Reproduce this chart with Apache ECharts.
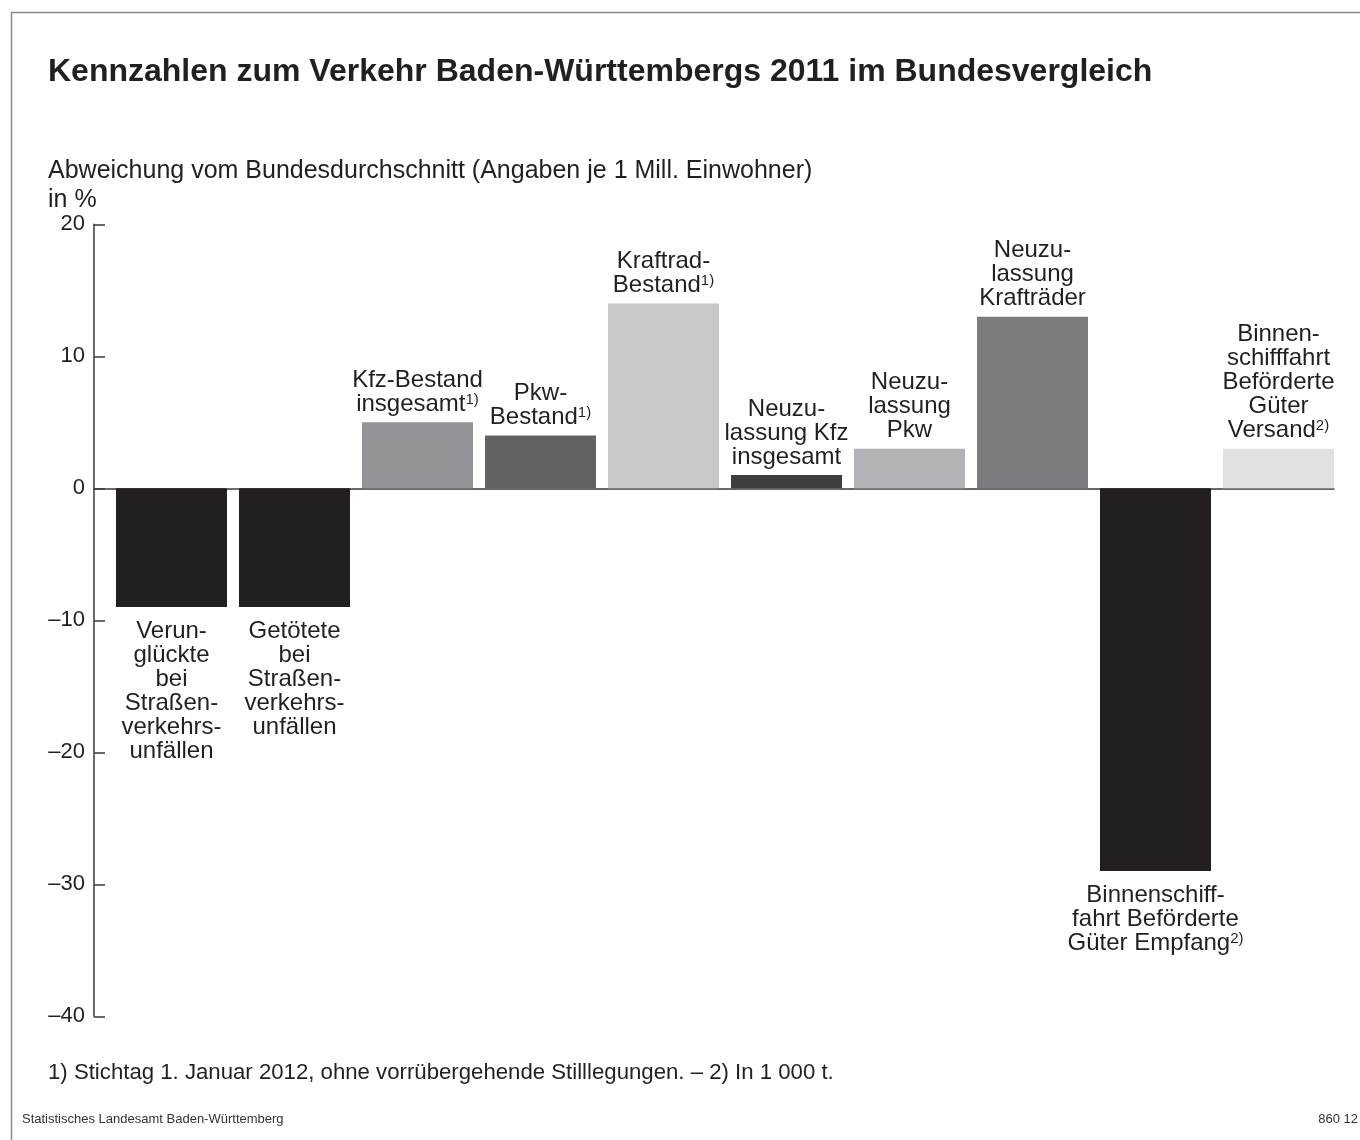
<!DOCTYPE html>
<html>
<head>
<meta charset="utf-8">
<script src="https://cdn.jsdelivr.net/npm/echarts@6/dist/echarts.min.js"></script>
<style>
html,body{margin:0;padding:0;background:#ffffff;}
#chart{width:1360px;height:1140px;}
</style>
</head>
<body>
<div id="chart"></div>
<script>
// ---- data ----
const categories = [
  'Verun-\nglückte\nbei\nStraßen-\nverkehrs-\nunfällen',
  'Getötete\nbei\nStraßen-\nverkehrs-\nunfällen',
  'Kfz-Bestand\ninsgesamt',
  'Pkw-\nBestand',
  'Kraftrad-\nBestand',
  'Neuzu-\nlassung Kfz\ninsgesamt',
  'Neuzu-\nlassung\nPkw',
  'Neuzu-\nlassung\nKrafträder',
  'Binnenschiff-\nfahrt Beförderte\nGüter Empfang',
  'Binnen-\nschifffahrt\nBeförderte\nGüter\nVersand'
];
const footnoteMarks = ['', '', '1)', '1)', '1)', '', '', '', '2)', '2)'];
const values = [-9, -9, 5, 4, 14, 1, 3, 13, -29, 3];
const barColors = ['#231f20', '#231f20', '#939497', '#636365', '#c7c8ca', '#3e3d3f', '#b2b3b6', '#7b7c80', '#231f20', '#e0e1e3'];
const yTickValues = [-40, -30, -20, -10, 0, 10, 20];

const titleText = 'Kennzahlen zum Verkehr Baden-Württembergs 2011 im Bundesvergleich';
const axisTitle = 'Abweichung vom Bundesdurchschnitt (Angaben je 1 Mill. Einwohner)\nin %';
const footnoteText = '1) Stichtag 1. Januar 2012, ohne vorrübergehende Stilllegungen. – 2) In 1 000 t.';
const sourceText = 'Statistisches Landesamt Baden-Württemberg';
const chartNumber = '860 12';

// ---- chart ----
const FONT = "'Liberation Sans', Arial, Helvetica, sans-serif";
const TXT = '#231f20';
const AX = '#3a3a3a';

const chart = echarts.init(document.getElementById('chart'), null, {renderer: 'canvas'});

const seriesData = values.map((v, i) => ({
  value: [i, v],
  itemStyle: {color: barColors[i]},
  label: {distance: v < 0 ? 12 : 6}
}));

const option = {
  backgroundColor: '#ffffff',
  animation: false,
  textStyle: {fontFamily: FONT, color: TXT},
  title: [
    {text: titleText, left: 43, top: 51.5,
     textStyle: {fontFamily: FONT, fontSize: 32, fontWeight: 'bold', color: TXT}},
    {text: axisTitle, left: 43, top: 152,
     textStyle: {fontFamily: FONT, fontSize: 25, fontWeight: 'normal', color: TXT, lineHeight: 28.5}},
    {text: footnoteText, left: 43, top: 1057,
     textStyle: {fontFamily: FONT, fontSize: 22.2, fontWeight: 'normal', color: TXT}},
    {text: sourceText, left: 17, top: 1108,
     textStyle: {fontFamily: FONT, fontSize: 13, fontWeight: 'normal', color: '#333'}},
    {text: chartNumber, right: -3, top: 1108,
     textStyle: {fontFamily: FONT, fontSize: 13, fontWeight: 'normal', color: '#333'}}
  ],
  graphic: [
    {type: 'rect', silent: true, z: -1,
     shape: {x: 11.5, y: 12.5, width: 1400, height: 1200},
     style: {fill: 'none', stroke: '#8a8a8a', lineWidth: 1.5}}
  ],
  grid: {left: 94, right: 26, top: 224.3, bottom: 123.7, containLabel: false},
  xAxis: {
    type: 'value',
    min: -0.6301,
    max: 9.4512,
    axisLine: {show: true, onZero: true, lineStyle: {color: AX, width: 1.5}},
    axisTick: {show: false},
    axisLabel: {show: false},
    splitLine: {show: false}
  },
  yAxis: {
    type: 'value',
    min: yTickValues[0],
    max: yTickValues[yTickValues.length - 1],
    interval: 10,
    axisLine: {show: true, onZero: false, lineStyle: {color: AX, width: 1.5}},
    axisTick: {show: true, inside: true, length: 11, lineStyle: {color: AX, width: 1.5}},
    axisLabel: {
      margin: 9, fontSize: 22, color: TXT, fontFamily: FONT,
      padding: [7, 0, 0, 0],
      formatter: v => (v < 0 ? '\u2013' + Math.abs(v) : String(v))
    },
    splitLine: {show: false}
  },
  series: [{
    type: 'bar',
    barWidth: 111,
    data: seriesData,
    label: {
      show: true,
      position: 'outside',
      distance: 8,
      fontFamily: FONT,
      fontSize: 24,
      lineHeight: 24,
      color: TXT,
      align: 'center',
      formatter: p => {
        const i = p.dataIndex;
        return categories[i] + (footnoteMarks[i] ? '{sup|' + footnoteMarks[i] + '}' : '');
      },
      rich: {
        sup: {fontFamily: FONT, fontSize: 15, lineHeight: 15, verticalAlign: 'top', color: TXT}
      }
    }
  }]
};

chart.setOption(option);
</script>
</body>
</html>
